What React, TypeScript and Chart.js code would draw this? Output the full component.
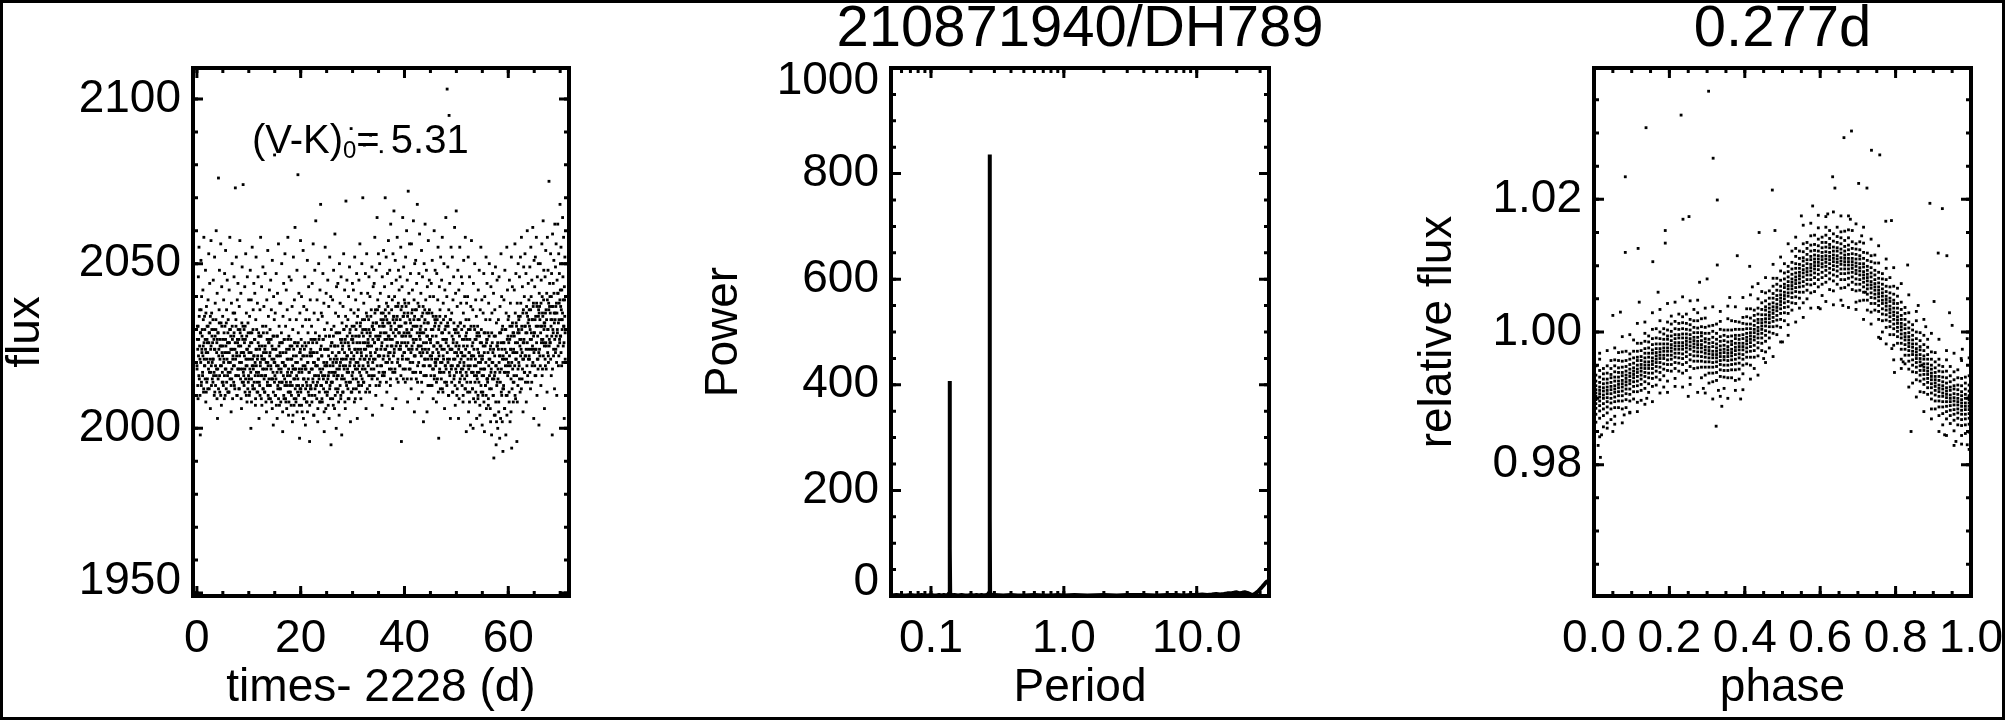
import React, { useEffect, useRef } from 'react';
import { Chart, registerables } from 'chart.js';

Chart.register(...registerables);

const FONT_FAMILY = "'Liberation Sans', Arial, Helvetica, sans-serif";

// ---------------- Panel 1: light curve ----------------
const LC_DAYS = [
  0, 1, 2, 3, 4, 5, 6, 7, 8, 9, 10, 11, 12, 13, 14, 15, 16, 17, 18, 19, 20, 21, 22, 23, 24, 25, 26, 27, 28, 29, 30, 31, 32, 33, 34, 35,
  36, 37, 38, 39, 40, 41, 42, 43, 44, 45, 46, 47, 48, 49, 50, 51, 52, 53, 54, 55, 56, 57, 58, 59, 60, 61, 62, 63, 64, 65, 66, 67, 68, 69, 70,
];
// broad scatter per day
const LC_FLUX: number[][] = [
  [2018, 2031, 2024, 2009, 2046, 2027, 2055, 2015, 2036, 2021, 1998, 2029, 2051, 2013, 2040, 2023],
  [2030, 2016, 2042, 2025, 2011, 2058, 2021, 2034, 2019, 2027, 2048, 2008, 2023, 2037, 2014, 2031],
  [2026, 2012, 2039, 2020, 2053, 2029, 2017, 2044, 2032, 2006, 2024, 2057, 2019, 2035, 2028, 2015],
  [2021, 2033, 2045, 2016, 2027, 2010, 2052, 2024, 2038, 2013, 2030, 2060, 2018, 2026, 2041, 2003],
  [2029, 2015, 2076, 2022, 2036, 2048, 2011, 2025, 2019, 2056, 2032, 2007, 2043, 2023, 2017, 2034],
  [2014, 2027, 2039, 2021, 2009, 2047, 2031, 2018, 2054, 2025, 2012, 2036, 2023, 2045, 2016, 2029],
  [2033, 2020, 2011, 2042, 2026, 2058, 2017, 2030, 2024, 2005, 2038, 2015, 2050, 2027, 2021, 2035],
  [2019, 2028, 2046, 2013, 2035, 2024, 2073, 2016, 2031, 2052, 2022, 2010, 2039, 2026, 2044, 2018],
  [2025, 2012, 2037, 2020, 2057, 2029, 2015, 2041, 2023, 2006, 2032, 2049, 2018, 2027, 2074, 2014],
  [2016, 2030, 2022, 2043, 2011, 2027, 2053, 2019, 2035, 2024, 2008, 2046, 2021, 2032, 2014, 2039],
  [2023, 2010, 2034, 2018, 2048, 2026, 2000, 2039, 2015, 2029, 2055, 2021, 2012, 2036, 2019, 2044],
  [2014, 2027, 2041, 2020, 2007, 2033, 2052, 2017, 2024, 2011, 2038, 2022, 2046, 2016, 2029, 2003],
  [2025, 2013, 2036, 2019, 2058, 2028, 2009, 2043, 2021, 2016, 2031, 2049, 2012, 2023, 2037, 2018],
  [2011, 2024, 2047, 2016, 2031, 2020, 2005, 2039, 2027, 2014, 2054, 2019, 2034, 2009, 2026, 2042],
  [2022, 2030, 2013, 2045, 2018, 2036, 2008, 2025, 2051, 2015, 2028, 2001, 2040, 2021, 2033, 2083],
  [2016, 2035, 2010, 2024, 2047, 2019, 2028, 2003, 2041, 2013, 2022, 2056, 2018, 2031, 2007, 2038],
  [2023, 2012, 2038, 2017, 2029, 2050, 2014, 2026, 1999, 2034, 2020, 2044, 2009, 2027, 2015, 2053],
  [2019, 2031, 2008, 2042, 2024, 2013, 2036, 2017, 2058, 2021, 2004, 2028, 2046, 2011, 2033, 2016],
  [2014, 2027, 2045, 2010, 2021, 2037, 2002, 2030, 2018, 2052, 2024, 2007, 2039, 2015, 2061, 2026],
  [2020, 2009, 2033, 2016, 2048, 2025, 2011, 2077, 2029, 2013, 2041, 2018, 1997, 2035, 2023, 2057],
  [2012, 2027, 2040, 2018, 2005, 2031, 2022, 2054, 2015, 2037, 2009, 2024, 2046, 2019, 2001, 2033],
  [2025, 2014, 2036, 2008, 2051, 2020, 2029, 2011, 2043, 2017, 2033, 1996, 2022, 2039, 2013, 2027],
  [2018, 2031, 2010, 2044, 2023, 2015, 2056, 2027, 2004, 2035, 2020, 2048, 2012, 2029, 2063, 2016],
  [2013, 2026, 2039, 2019, 2002, 2033, 2021, 2050, 2015, 2028, 2008, 2042, 2024, 2068, 2017, 2035],
  [2022, 2009, 2034, 2016, 2047, 2027, 2012, 2038, 1999, 2030, 2019, 2055, 2024, 2006, 2041, 2014],
  [2019, 2032, 2011, 2045, 2024, 2016, 2037, 2003, 2028, 2052, 2013, 2021, 2040, 1995, 2030, 2017],
  [2026, 2014, 2039, 2020, 2007, 2048, 2031, 2017, 2025, 2059, 2010, 2035, 2022, 2000, 2043, 2018],
  [2016, 2029, 2044, 2012, 2034, 2023, 2004, 2050, 2019, 2038, 2027, 2009, 2046, 2021, 1998, 2032],
  [2024, 2011, 2037, 2019, 2053, 2030, 2015, 2042, 2026, 2006, 2034, 2069, 2021, 2013, 2045, 2028],
  [2018, 2033, 2009, 2040, 2025, 2014, 2049, 2029, 2020, 2002, 2036, 2091, 2023, 2011, 2031, 2044],
  [2027, 2015, 2042, 2021, 2035, 2008, 2052, 2024, 2018, 2039, 2030, 2012, 2047, 2026, 2003, 2034],
  [2020, 2036, 2013, 2045, 2028, 2017, 2056, 2031, 2024, 2009, 2041, 2022, 2050, 2015, 2033, 2070],
  [2026, 2014, 2038, 2021, 2086, 2030, 2018, 2047, 2024, 2006, 2035, 2053, 2029, 2012, 2041, 2027],
  [2019, 2033, 2046, 2025, 2011, 2040, 2029, 2089, 2022, 2036, 2016, 2049, 2031, 2004, 2027, 2043],
  [2030, 2018, 2044, 2026, 2058, 2021, 2036, 2010, 2048, 2032, 2024, 2064, 2015, 2039, 2028, 2053],
  [2022, 2037, 2013, 2050, 2028, 2041, 2019, 2033, 2084, 2025, 2007, 2046, 2031, 2017, 2035, 2054],
  [2029, 2016, 2043, 2024, 2070, 2034, 2020, 2052, 2038, 2011, 2027, 2047, 2032, 2022, 2057, 2040],
  [2035, 2021, 2048, 2027, 2013, 2062, 2031, 2018, 2044, 2025, 2039, 2006, 2053, 2029, 2034, 2066],
  [2024, 2040, 2017, 2051, 2030, 2009, 2045, 2033, 2026, 2058, 2020, 2037, 2014, 2048, 2031, 2042],
  [2031, 2019, 2046, 2025, 2055, 2036, 1996, 2028, 2043, 2022, 2064, 2034, 2015, 2049, 2029, 2039],
  [2026, 2038, 2014, 2052, 2032, 2021, 2060, 2029, 2045, 2008, 2035, 2072, 2024, 2041, 2018, 2056],
  [2033, 2020, 2047, 2028, 2012, 2056, 2035, 2024, 2042, 2017, 2031, 2063, 2026, 2039, 2005, 2050],
  [2022, 2036, 2051, 2027, 2015, 2044, 2031, 2068, 2019, 2038, 2025, 2009, 2047, 2033, 2059, 2029],
  [2030, 2017, 2041, 2025, 2054, 2034, 2011, 2046, 2023, 2037, 2002, 2029, 2050, 2019, 2036, 2062],
  [2024, 2039, 2016, 2048, 2028, 2005, 2043, 2032, 2021, 2057, 2035, 2013, 2045, 2027, 2040, 2019],
  [2027, 2013, 2044, 2022, 2035, 2051, 2018, 2030, 2009, 2040, 2025, 2060, 2016, 2033, 2048, 2021],
  [2020, 2034, 2008, 2047, 2026, 2015, 2039, 2055, 2023, 1997, 2031, 2043, 2018, 2036, 2012, 2052],
  [2032, 2017, 2045, 2024, 2058, 2029, 2011, 2038, 2021, 2050, 2027, 2006, 2042, 2019, 2034, 2064],
  [2026, 2014, 2040, 2103, 2021, 2049, 2031, 2010, 2036, 2095, 2017, 2044, 2024, 2003, 2033, 2055],
  [2018, 2035, 2024, 2052, 2011, 2039, 2027, 2046, 2015, 2030, 2061, 2021, 2007, 2041, 2025, 2066],
  [2023, 2010, 2037, 2019, 2048, 2029, 2003, 2042, 2025, 2014, 2055, 2032, 2017, 2038, 2021, 2046],
  [2030, 2016, 2044, 2022, 2008, 2035, 2051, 2019, 2027, 2040, 2012, 2058, 2024, 2033, 1999, 2038],
  [2014, 2027, 2040, 2019, 2052, 2005, 2033, 2023, 2046, 2011, 2030, 2001, 2037, 2021, 2057, 2017],
  [2025, 2012, 2036, 2000, 2044, 2022, 2031, 2016, 2050, 2027, 2008, 2039, 2019, 2034, 2003, 2029],
  [2017, 2031, 2009, 2042, 2023, 2014, 2048, 2028, 2004, 2036, 2020, 2055, 2011, 2026, 2039, 2001],
  [2022, 2010, 2035, 2018, 2047, 2029, 1999, 2040, 2025, 2013, 2033, 2052, 2006, 2027, 2044, 2015],
  [2015, 2029, 2007, 2038, 2021, 2050, 2012, 2033, 2024, 2002, 2043, 2018, 1998, 2035, 2026, 2047],
  [2023, 2010, 2041, 1991, 2028, 2016, 2036, 2004, 2049, 2019, 1995, 2032, 2013, 2045, 2025, 2000],
  [2018, 2033, 2008, 2046, 2022, 1997, 2037, 2014, 2029, 2053, 2011, 2040, 2024, 2002, 2031, 1993],
  [2026, 2013, 2039, 2021, 2006, 2048, 2030, 2017, 1998, 2035, 2023, 2055, 2010, 2042, 2019, 2033],
  [2020, 2034, 2011, 2045, 2027, 2002, 2038, 2024, 2015, 2052, 1994, 2031, 2043, 2018, 2029, 2008],
  [2029, 2016, 2042, 2023, 2056, 2035, 2009, 2047, 2021, 2031, 1996, 2038, 2026, 2013, 2050, 2034],
  [2033, 2019, 2046, 2027, 2011, 2052, 2038, 2024, 2058, 2030, 2015, 2043, 2021, 2005, 2036, 2049],
  [2026, 2040, 2017, 2053, 2031, 2022, 2047, 2008, 2037, 2029, 2060, 2034, 2014, 2044, 2024, 2039],
  [2036, 2021, 2049, 2030, 2012, 2055, 2040, 2027, 2045, 2019, 2033, 2061, 2024, 2038, 2003, 2051],
  [2029, 2043, 2016, 2052, 2034, 2024, 2058, 2038, 2010, 2046, 2031, 2021, 2050, 2036, 2001, 2041],
  [2037, 2022, 2050, 2031, 2013, 2045, 2027, 2056, 2040, 2018, 2034, 2063, 2026, 2048, 2032, 2006],
  [2032, 2046, 2019, 2054, 2036, 2025, 2041, 2011, 2058, 2030, 2048, 2022, 2038, 2075, 2027, 2044],
  [2040, 2026, 2053, 2033, 2016, 2047, 2037, 1998, 2059, 2030, 2044, 2022, 2051, 2035, 2012, 2062],
  [2035, 2049, 2024, 2056, 2038, 2010, 2045, 2029, 2062, 2041, 2019, 2053, 2033, 2047, 2026, 2068],
  [2042, 2028, 2055, 2036, 2019, 2050, 2033, 2064, 2046, 2025, 2058, 2031, 2003, 2039, 2052, 2021],
];
// denser core of the band per day
const LC_FLUX_CORE: number[][] = [
  [2019, 2027, 2013, 2031, 2022, 2016, 2034, 2025, 2010, 2029, 2020, 2036, 2014, 2024],
  [2028, 2017, 2022, 2033, 2012, 2026, 2019, 2030, 2015, 2024, 2035, 2011, 2021, 2027],
  [2015, 2023, 2031, 2018, 2026, 2012, 2029, 2021, 2034, 2017, 2025, 2013, 2030, 2020],
  [2026, 2014, 2021, 2030, 2017, 2024, 2011, 2028, 2019, 2033, 2016, 2023, 2009, 2027],
  [2018, 2029, 2012, 2024, 2032, 2016, 2021, 2027, 2010, 2025, 2019, 2031, 2014, 2022],
  [2025, 2013, 2020, 2029, 2016, 2023, 2010, 2027, 2018, 2032, 2014, 2021, 2026, 2011],
  [2017, 2026, 2011, 2023, 2030, 2015, 2020, 2028, 2013, 2024, 2018, 2031, 2009, 2022],
  [2024, 2014, 2029, 2019, 2012, 2026, 2021, 2033, 2016, 2023, 2010, 2027, 2018, 2030],
  [2016, 2027, 2012, 2022, 2030, 2018, 2025, 2009, 2020, 2028, 2014, 2023, 2031, 2017],
  [2023, 2013, 2026, 2018, 2031, 2015, 2021, 2010, 2028, 2019, 2024, 2012, 2029, 2016],
  [2015, 2025, 2011, 2021, 2029, 2017, 2023, 2008, 2026, 2019, 2013, 2030, 2018, 2022],
  [2022, 2012, 2027, 2016, 2009, 2024, 2019, 2030, 2014, 2021, 2011, 2026, 2017, 2028],
  [2014, 2024, 2010, 2020, 2028, 2016, 2022, 2007, 2025, 2018, 2012, 2029, 2021, 2015],
  [2021, 2011, 2025, 2016, 2008, 2023, 2018, 2029, 2013, 2020, 2010, 2026, 2015, 2027],
  [2013, 2023, 2009, 2019, 2027, 2015, 2021, 2006, 2024, 2017, 2011, 2028, 2020, 2014],
  [2020, 2010, 2024, 2015, 2007, 2022, 2017, 2028, 2012, 2019, 2009, 2025, 2014, 2026],
  [2012, 2022, 2008, 2018, 2026, 2014, 2020, 2005, 2023, 2016, 2010, 2027, 2019, 2013],
  [2019, 2009, 2023, 2014, 2006, 2021, 2016, 2027, 2011, 2018, 2008, 2024, 2013, 2025],
  [2011, 2021, 2007, 2017, 2025, 2013, 2019, 2004, 2022, 2015, 2009, 2026, 2018, 2012],
  [2018, 2008, 2022, 2013, 2005, 2020, 2015, 2026, 2010, 2017, 2007, 2023, 2012, 2024],
  [2011, 2021, 2007, 2017, 2025, 2013, 2019, 2003, 2022, 2015, 2009, 2026, 2018, 2012],
  [2018, 2008, 2022, 2013, 2005, 2020, 2015, 2026, 2010, 2017, 2007, 2023, 2012, 2024],
  [2012, 2022, 2008, 2018, 2026, 2014, 2020, 2004, 2023, 2016, 2010, 2027, 2019, 2013],
  [2019, 2009, 2023, 2014, 2006, 2021, 2016, 2027, 2011, 2018, 2008, 2024, 2013, 2025],
  [2013, 2022, 2008, 2018, 2027, 2015, 2020, 2005, 2024, 2016, 2011, 2028, 2019, 2014],
  [2020, 2010, 2024, 2015, 2007, 2022, 2017, 2028, 2012, 2019, 2009, 2025, 2014, 2026],
  [2014, 2023, 2009, 2019, 2028, 2016, 2021, 2006, 2025, 2017, 2012, 2029, 2020, 2015],
  [2021, 2011, 2025, 2016, 2008, 2023, 2018, 2029, 2013, 2020, 2010, 2026, 2015, 2027],
  [2016, 2025, 2011, 2021, 2030, 2018, 2023, 2008, 2027, 2019, 2014, 2031, 2022, 2017],
  [2022, 2012, 2026, 2017, 2009, 2024, 2019, 2030, 2014, 2021, 2011, 2027, 2016, 2028],
  [2017, 2026, 2012, 2022, 2031, 2019, 2024, 2009, 2028, 2020, 2015, 2032, 2023, 2018],
  [2024, 2014, 2028, 2019, 2011, 2026, 2021, 2032, 2016, 2023, 2013, 2029, 2018, 2030],
  [2019, 2028, 2014, 2024, 2033, 2021, 2026, 2011, 2030, 2022, 2017, 2034, 2025, 2020],
  [2026, 2016, 2030, 2021, 2013, 2028, 2023, 2034, 2018, 2025, 2015, 2031, 2020, 2032],
  [2021, 2030, 2016, 2026, 2035, 2023, 2028, 2013, 2032, 2024, 2019, 2036, 2027, 2022],
  [2027, 2017, 2031, 2022, 2014, 2029, 2024, 2035, 2019, 2026, 2016, 2032, 2021, 2033],
  [2022, 2031, 2017, 2027, 2036, 2024, 2029, 2014, 2033, 2025, 2020, 2037, 2028, 2023],
  [2028, 2018, 2032, 2023, 2015, 2030, 2025, 2036, 2020, 2027, 2017, 2033, 2022, 2034],
  [2023, 2032, 2018, 2028, 2037, 2025, 2030, 2015, 2034, 2026, 2021, 2038, 2029, 2024],
  [2029, 2019, 2033, 2024, 2016, 2031, 2026, 2037, 2021, 2028, 2018, 2034, 2023, 2035],
  [2023, 2032, 2018, 2028, 2037, 2025, 2030, 2015, 2034, 2026, 2021, 2038, 2029, 2024],
  [2028, 2018, 2032, 2023, 2015, 2030, 2025, 2036, 2020, 2027, 2017, 2033, 2022, 2034],
  [2022, 2031, 2017, 2027, 2036, 2024, 2029, 2014, 2033, 2025, 2020, 2037, 2028, 2023],
  [2027, 2017, 2031, 2022, 2014, 2029, 2024, 2035, 2019, 2026, 2016, 2032, 2021, 2033],
  [2021, 2030, 2016, 2026, 2035, 2023, 2028, 2013, 2032, 2024, 2019, 2036, 2027, 2022],
  [2026, 2016, 2030, 2021, 2013, 2028, 2023, 2034, 2018, 2025, 2015, 2031, 2020, 2032],
  [2019, 2028, 2014, 2024, 2033, 2021, 2026, 2011, 2030, 2022, 2017, 2034, 2025, 2020],
  [2025, 2015, 2029, 2020, 2012, 2027, 2022, 2033, 2017, 2024, 2014, 2030, 2019, 2031],
  [2018, 2027, 2013, 2023, 2032, 2020, 2025, 2010, 2029, 2021, 2016, 2033, 2024, 2019],
  [2024, 2014, 2028, 2019, 2011, 2026, 2021, 2032, 2016, 2023, 2013, 2029, 2018, 2030],
  [2017, 2026, 2012, 2022, 2031, 2019, 2024, 2009, 2028, 2020, 2015, 2032, 2023, 2018],
  [2023, 2013, 2027, 2018, 2010, 2025, 2020, 2031, 2015, 2022, 2012, 2028, 2017, 2029],
  [2016, 2025, 2011, 2021, 2030, 2018, 2023, 2008, 2027, 2019, 2014, 2031, 2022, 2017],
  [2022, 2012, 2026, 2017, 2009, 2024, 2019, 2030, 2014, 2021, 2011, 2027, 2016, 2028],
  [2015, 2024, 2010, 2020, 2029, 2017, 2022, 2007, 2026, 2018, 2013, 2030, 2021, 2016],
  [2021, 2011, 2025, 2016, 2008, 2023, 2018, 2029, 2013, 2020, 2010, 2026, 2015, 2027],
  [2014, 2023, 2009, 2019, 2028, 2016, 2021, 2006, 2025, 2017, 2012, 2029, 2020, 2015],
  [2020, 2010, 2024, 2015, 2004, 2022, 2017, 2028, 2008, 2019, 2002, 2025, 2014, 2026],
  [2015, 2024, 2005, 2020, 2029, 2017, 2022, 2003, 2026, 2018, 2010, 2030, 2021, 2012],
  [2022, 2012, 2026, 2017, 2006, 2024, 2019, 2030, 2010, 2021, 2004, 2027, 2016, 2028],
  [2017, 2026, 2008, 2022, 2031, 2019, 2024, 2005, 2028, 2020, 2012, 2032, 2023, 2014],
  [2024, 2014, 2028, 2019, 2010, 2026, 2021, 2032, 2016, 2023, 2008, 2029, 2018, 2030],
  [2020, 2029, 2015, 2025, 2034, 2022, 2027, 2012, 2031, 2023, 2018, 2035, 2026, 2021],
  [2027, 2017, 2031, 2022, 2014, 2029, 2024, 2035, 2019, 2026, 2016, 2032, 2021, 2033],
  [2022, 2031, 2017, 2027, 2036, 2024, 2029, 2014, 2033, 2025, 2020, 2037, 2028, 2023],
  [2029, 2019, 2033, 2024, 2016, 2031, 2026, 2037, 2021, 2028, 2018, 2034, 2023, 2035],
  [2024, 2033, 2019, 2029, 2038, 2026, 2031, 2016, 2035, 2027, 2022, 2039, 2030, 2025],
  [2031, 2021, 2035, 2026, 2018, 2033, 2028, 2039, 2023, 2030, 2020, 2036, 2025, 2037],
  [2026, 2035, 2021, 2031, 2040, 2028, 2033, 2018, 2037, 2029, 2024, 2041, 2032, 2027],
  [2033, 2023, 2037, 2028, 2020, 2035, 2030, 2041, 2025, 2032, 2022, 2038, 2027, 2039],
  [2028, 2037, 2023, 2033, 2042, 2030, 2035, 2020, 2039, 2031, 2026, 2043, 2034, 2029],
];
const LC_X_TICKS = [0, 20, 40, 60];
const LC_X_TICK_LABELS = ['0', '20', '40', '60'];
const LC_Y_TICKS = [1950, 2000, 2050, 2100];
const LC_Y_TICK_LABELS = ['1950', '2000', '2050', '2100'];
const LC_X_RANGE = [-0.75, 71.7];
const LC_Y_RANGE = [1949.1, 2109.4];
const LC_X_MINOR_STEP = 5;
const LC_Y_MINOR_STEP = 10;
const ANNOT_MAIN = '(V-K)';
const ANNOT_SUB = '0';
const ANNOT_VALUE = '= 5.31';
const ANNOT_AT = { x: 10.6, y: 2083.6 };

// ---------------- Panel 2: periodogram ----------------
const PG_PERIOD = [
  0.05, 0.055, 0.06, 0.065, 0.07, 0.075, 0.08, 0.085, 0.09, 0.095, 0.1, 0.105, 0.11, 0.115, 0.12, 0.125, 0.13, 0.134,
  0.1375, 0.1381, 0.1385, 0.1389, 0.1395,
  0.142, 0.146, 0.15, 0.16, 0.17, 0.18, 0.19, 0.2, 0.21, 0.22, 0.23, 0.24, 0.25, 0.26, 0.27,
  0.2755, 0.2764, 0.277, 0.2776, 0.2785,
  0.282, 0.29, 0.3, 0.35, 0.4, 0.45, 0.5, 0.6, 0.7, 0.8, 0.9, 1.0, 1.2, 1.5, 2, 2.5, 3, 4, 5, 6, 7, 8, 9,
  10, 11, 12, 13, 14, 15, 16, 17, 18, 19, 20, 21, 22, 23, 24, 25, 26, 27, 28, 29, 30, 31, 32, 33, 34, 35,
];
const PG_POWER = [
  1, 2, 1, 1, 2, 1, 1, 2, 1, 1, 2, 1, 1, 2, 1, 2, 1, 2,
  6, 120, 407, 90, 5,
  2, 1, 2, 1, 2, 1, 1, 2, 1, 2, 1, 2, 1, 2, 3,
  8, 200, 836, 150, 6,
  2, 1, 2, 1, 2, 1, 1, 2, 1, 1, 2, 1, 2, 1, 2, 1, 2, 2, 1, 2, 2, 1, 2,
  2, 3, 2, 3, 4, 3, 4, 5, 5, 6, 7, 5, 6, 7, 6, 4, 2, 3, 6, 9, 13, 17, 21, 25, 28, 27,
];
const PG_X_TICKS = [0.1, 1, 10];
const PG_X_TICK_LABELS = ['0.1', '1.0', '10.0'];
const PG_Y_TICKS = [0, 200, 400, 600, 800, 1000];
const PG_Y_TICK_LABELS = ['0', '200', '400', '600', '800', '1000'];
const PG_X_RANGE = [0.05, 35];
const PG_Y_RANGE = [0, 1000];
const PG_Y_MINOR_STEP = 50;
const PG_TITLE = '210871940/DH789';

// ---------------- Panel 3: phased light curve (one row per phase column) ----------------
const PH_COLUMN_FLUX: number[][] = [
  [0.9864, 0.9876, 0.9885, 0.9892, 0.9898, 0.9903, 0.9908, 0.9913, 0.9919, 0.9926, 0.9935, 0.9949],
  [0.987, 0.9881, 0.9889, 0.9896, 0.9902, 0.9907, 0.9912, 0.9917, 0.9924, 0.9932, 0.9942, 0.9959],
  [0.9857, 0.9874, 0.9884, 0.9892, 0.99, 0.9905, 0.9911, 0.9916, 0.9922, 0.9929, 0.9937, 0.9945],
  [0.9863, 0.9878, 0.9887, 0.9895, 0.9901, 0.9907, 0.9912, 0.9917, 0.9923, 0.9929, 0.9938, 0.9949],
  [0.9868, 0.9884, 0.9893, 0.99, 0.9907, 0.9913, 0.9918, 0.9924, 0.9931, 0.9936, 0.9945, 0.9957],
  [0.9873, 0.9886, 0.9895, 0.9902, 0.9909, 0.9914, 0.9919, 0.9926, 0.9932, 0.994, 0.9949, 0.9958],
  [0.9886, 0.9896, 0.9904, 0.991, 0.9916, 0.9921, 0.9926, 0.9932, 0.9939, 0.9946, 0.9957, 0.9969],
  [0.9884, 0.9896, 0.9904, 0.9911, 0.9917, 0.9922, 0.9927, 0.9934, 0.9939, 0.9947, 0.9956, 0.997],
  [0.9886, 0.9898, 0.9907, 0.9914, 0.992, 0.9925, 0.993, 0.9935, 0.9941, 0.9948, 0.9957, 0.9971],
  [0.9879, 0.9896, 0.9906, 0.9914, 0.9922, 0.9927, 0.9933, 0.9938, 0.9944, 0.9951, 0.9959, 0.9967],
  [0.9899, 0.991, 0.9918, 0.9925, 0.9931, 0.9936, 0.9941, 0.9946, 0.9953, 0.9961, 0.9971, 0.9988],
  [0.9894, 0.991, 0.9919, 0.9926, 0.9933, 0.9939, 0.9944, 0.995, 0.9957, 0.9962, 0.9971, 0.9983],
  [0.9897, 0.9912, 0.9921, 0.9929, 0.9935, 0.9941, 0.9946, 0.9951, 0.9957, 0.9963, 0.9972, 0.9983],
  [0.9915, 0.9925, 0.9933, 0.9939, 0.9945, 0.995, 0.9955, 0.9961, 0.9968, 0.9975, 0.9986, 0.9998],
  [0.9909, 0.9922, 0.9931, 0.9938, 0.9945, 0.995, 0.9955, 0.9962, 0.9968, 0.9976, 0.9985, 0.9994],
  [0.9918, 0.993, 0.9938, 0.9945, 0.9951, 0.9956, 0.9961, 0.9968, 0.9973, 0.9981, 0.999, 1.0004],
  [0.992, 0.9932, 0.9941, 0.9948, 0.9954, 0.9959, 0.9964, 0.9969, 0.9975, 0.9982, 0.9991, 1.0005],
  [0.9928, 0.9939, 0.9947, 0.9954, 0.996, 0.9965, 0.997, 0.9975, 0.9982, 0.999, 1.0, 1.0017],
  [0.9917, 0.9934, 0.9944, 0.9952, 0.996, 0.9965, 0.9971, 0.9976, 0.9982, 0.9989, 0.9997, 1.0005],
  [0.9926, 0.9942, 0.9951, 0.9958, 0.9965, 0.9971, 0.9976, 0.9982, 0.9989, 0.9994, 1.0003, 1.0015],
  [0.9941, 0.9951, 0.9959, 0.9965, 0.9971, 0.9976, 0.9981, 0.9987, 0.9994, 1.0001, 1.0012, 1.0024],
  [0.993, 0.9945, 0.9954, 0.9962, 0.9968, 0.9974, 0.9979, 0.9984, 0.999, 0.9996, 1.0005, 1.0016],
  [0.9941, 0.9953, 0.9961, 0.9968, 0.9974, 0.9979, 0.9984, 0.9991, 0.9996, 1.0004, 1.0013, 1.0027],
  [0.9938, 0.9951, 0.996, 0.9967, 0.9974, 0.9979, 0.9984, 0.9991, 0.9997, 1.0005, 1.0014, 1.0023],
  [0.9942, 0.9954, 0.9963, 0.997, 0.9976, 0.9981, 0.9986, 0.9991, 0.9997, 1.0004, 1.0013, 1.0027],
  [0.9931, 0.9948, 0.9958, 0.9966, 0.9974, 0.9979, 0.9985, 0.999, 0.9996, 1.0003, 1.0011, 1.0019],
  [0.9945, 0.9956, 0.9964, 0.9971, 0.9977, 0.9982, 0.9987, 0.9992, 0.9999, 1.0007, 1.0017, 1.0034],
  [0.9946, 0.9956, 0.9964, 0.997, 0.9976, 0.9981, 0.9986, 0.9992, 0.9999, 1.0006, 1.0017, 1.0029],
  [0.9931, 0.9947, 0.9956, 0.9963, 0.997, 0.9976, 0.9981, 0.9987, 0.9994, 0.9999, 1.0008, 1.002],
  [0.9935, 0.9947, 0.9955, 0.9962, 0.9968, 0.9973, 0.9978, 0.9985, 0.999, 0.9998, 1.0007, 1.0021],
  [0.9923, 0.9938, 0.9947, 0.9955, 0.9961, 0.9967, 0.9972, 0.9977, 0.9983, 0.9989, 0.9998, 1.0009],
  [0.9925, 0.9938, 0.9947, 0.9954, 0.9961, 0.9966, 0.9971, 0.9978, 0.9984, 0.9992, 1.0001, 1.001],
  [0.9927, 0.9939, 0.9948, 0.9955, 0.9961, 0.9966, 0.9971, 0.9976, 0.9982, 0.9989, 0.9998, 1.0012],
  [0.9933, 0.9943, 0.9951, 0.9957, 0.9963, 0.9968, 0.9973, 0.9979, 0.9986, 0.9993, 1.0004, 1.0016],
  [0.9915, 0.9932, 0.9942, 0.995, 0.9958, 0.9963, 0.9969, 0.9974, 0.998, 0.9987, 0.9995, 1.0003],
  [0.9931, 0.9942, 0.995, 0.9957, 0.9963, 0.9968, 0.9973, 0.9978, 0.9985, 0.9993, 1.0003, 1.002],
  [0.9931, 0.9943, 0.9951, 0.9958, 0.9964, 0.9969, 0.9974, 0.9981, 0.9986, 0.9994, 1.0003, 1.0017],
  [0.9927, 0.9943, 0.9952, 0.9959, 0.9966, 0.9972, 0.9977, 0.9983, 0.999, 0.9995, 1.0004, 1.0016],
  [0.9929, 0.9944, 0.9953, 0.9961, 0.9967, 0.9973, 0.9978, 0.9983, 0.9989, 0.9995, 1.0004, 1.0015],
  [0.9937, 0.995, 0.9959, 0.9966, 0.9973, 0.9978, 0.9983, 0.999, 0.9996, 1.0004, 1.0013, 1.0022],
  [0.9952, 0.9962, 0.997, 0.9976, 0.9982, 0.9987, 0.9992, 0.9998, 1.0005, 1.0012, 1.0023, 1.0035],
  [0.995, 0.9962, 0.9971, 0.9978, 0.9984, 0.9989, 0.9994, 0.9999, 1.0005, 1.0012, 1.0021, 1.0035],
  [0.9945, 0.9962, 0.9972, 0.998, 0.9988, 0.9993, 0.9999, 1.0004, 1.001, 1.0017, 1.0025, 1.0033],
  [0.9964, 0.9976, 0.9984, 0.9991, 0.9997, 1.0002, 1.0007, 1.0014, 1.0019, 1.0027, 1.0036, 1.005],
  [0.9972, 0.9983, 0.9991, 0.9998, 1.0004, 1.0009, 1.0014, 1.0019, 1.0026, 1.0034, 1.0044, 1.0061],
  [0.997, 0.9986, 0.9995, 1.0002, 1.0009, 1.0015, 1.002, 1.0026, 1.0033, 1.0038, 1.0047, 1.0059],
  [0.9976, 0.9991, 1.0, 1.0008, 1.0014, 1.002, 1.0025, 1.003, 1.0036, 1.0042, 1.0051, 1.0062],
  [0.9998, 1.0008, 1.0016, 1.0022, 1.0028, 1.0033, 1.0038, 1.0044, 1.0051, 1.0058, 1.0069, 1.0081],
  [0.9996, 1.0009, 1.0018, 1.0025, 1.0032, 1.0037, 1.0042, 1.0049, 1.0055, 1.0063, 1.0072, 1.0081],
  [1.0007, 1.0019, 1.0028, 1.0035, 1.0041, 1.0046, 1.0051, 1.0056, 1.0062, 1.0069, 1.0078, 1.0092],
  [1.0017, 1.0029, 1.0037, 1.0044, 1.005, 1.0055, 1.006, 1.0067, 1.0072, 1.008, 1.0089, 1.0103],
  [1.0011, 1.0028, 1.0038, 1.0046, 1.0054, 1.0059, 1.0065, 1.007, 1.0076, 1.0083, 1.0091, 1.0099],
  [1.0033, 1.0044, 1.0052, 1.0059, 1.0065, 1.007, 1.0075, 1.008, 1.0087, 1.0095, 1.0105, 1.0122],
  [1.0043, 1.0053, 1.0061, 1.0067, 1.0073, 1.0078, 1.0083, 1.0089, 1.0096, 1.0103, 1.0114, 1.0126],
  [1.0036, 1.0051, 1.006, 1.0068, 1.0074, 1.008, 1.0085, 1.009, 1.0096, 1.0102, 1.0111, 1.0122],
  [1.0044, 1.006, 1.0069, 1.0076, 1.0083, 1.0089, 1.0094, 1.01, 1.0107, 1.0112, 1.0121, 1.0133],
  [1.005, 1.0063, 1.0072, 1.0079, 1.0086, 1.0091, 1.0096, 1.0103, 1.0109, 1.0117, 1.0126, 1.0135],
  [1.0059, 1.0071, 1.0079, 1.0086, 1.0092, 1.0097, 1.0102, 1.0109, 1.0114, 1.0122, 1.0131, 1.0145],
  [1.0061, 1.0073, 1.0082, 1.0089, 1.0095, 1.01, 1.0105, 1.011, 1.0116, 1.0123, 1.0132, 1.0146],
  [1.0068, 1.0079, 1.0087, 1.0094, 1.01, 1.0105, 1.011, 1.0115, 1.0122, 1.013, 1.014, 1.0157],
  [1.0055, 1.0072, 1.0082, 1.009, 1.0098, 1.0103, 1.0109, 1.0114, 1.012, 1.0127, 1.0135, 1.0143],
  [1.0075, 1.0085, 1.0093, 1.0099, 1.0105, 1.011, 1.0115, 1.0121, 1.0128, 1.0135, 1.0146, 1.0158],
  [1.0064, 1.008, 1.0089, 1.0096, 1.0103, 1.0109, 1.0114, 1.012, 1.0127, 1.0132, 1.0141, 1.0153],
  [1.0062, 1.0077, 1.0086, 1.0094, 1.01, 1.0106, 1.0111, 1.0116, 1.0122, 1.0128, 1.0137, 1.0148],
  [1.0072, 1.0084, 1.0092, 1.0099, 1.0105, 1.011, 1.0115, 1.0122, 1.0127, 1.0135, 1.0144, 1.0158],
  [1.0066, 1.0079, 1.0088, 1.0095, 1.0102, 1.0107, 1.0112, 1.0119, 1.0125, 1.0133, 1.0142, 1.0151],
  [1.0067, 1.0079, 1.0088, 1.0095, 1.0101, 1.0106, 1.0111, 1.0116, 1.0122, 1.0129, 1.0138, 1.0152],
  [1.0071, 1.0081, 1.0089, 1.0095, 1.0101, 1.0106, 1.0111, 1.0117, 1.0124, 1.0131, 1.0142, 1.0154],
  [1.0064, 1.0075, 1.0083, 1.009, 1.0096, 1.0101, 1.0106, 1.0111, 1.0118, 1.0126, 1.0136, 1.0153],
  [1.0045, 1.0062, 1.0072, 1.008, 1.0088, 1.0093, 1.0099, 1.0104, 1.011, 1.0117, 1.0125, 1.0133],
  [1.0047, 1.0063, 1.0072, 1.0079, 1.0086, 1.0092, 1.0097, 1.0103, 1.011, 1.0115, 1.0124, 1.0136],
  [1.0048, 1.006, 1.0068, 1.0075, 1.0081, 1.0086, 1.0091, 1.0098, 1.0103, 1.0111, 1.012, 1.0134],
  [1.0033, 1.0048, 1.0057, 1.0065, 1.0071, 1.0077, 1.0082, 1.0087, 1.0093, 1.0099, 1.0108, 1.0119],
  [1.003, 1.0043, 1.0052, 1.0059, 1.0066, 1.0071, 1.0076, 1.0083, 1.0089, 1.0097, 1.0106, 1.0115],
  [1.0033, 1.0043, 1.0051, 1.0057, 1.0063, 1.0068, 1.0073, 1.0079, 1.0086, 1.0093, 1.0104, 1.0116],
  [1.0019, 1.0031, 1.004, 1.0047, 1.0053, 1.0058, 1.0063, 1.0068, 1.0074, 1.0081, 1.009, 1.0104],
  [1.0, 1.0017, 1.0027, 1.0035, 1.0043, 1.0048, 1.0054, 1.0059, 1.0065, 1.0072, 1.008, 1.0088],
  [1.0007, 1.0018, 1.0026, 1.0033, 1.0039, 1.0044, 1.0049, 1.0054, 1.0061, 1.0069, 1.0079, 1.0096],
  [0.9996, 1.0008, 1.0016, 1.0023, 1.0029, 1.0034, 1.0039, 1.0046, 1.0051, 1.0059, 1.0068, 1.0082],
  [0.998, 0.9996, 1.0005, 1.0012, 1.0019, 1.0025, 1.003, 1.0036, 1.0043, 1.0048, 1.0057, 1.0069],
  [0.9983, 0.9993, 1.0001, 1.0007, 1.0013, 1.0018, 1.0023, 1.0029, 1.0036, 1.0043, 1.0054, 1.0066],
  [0.9959, 0.9974, 0.9983, 0.9991, 0.9997, 1.0003, 1.0008, 1.0013, 1.0019, 1.0025, 1.0034, 1.0045],
  [0.9952, 0.9965, 0.9974, 0.9981, 0.9988, 0.9993, 0.9998, 1.0005, 1.0011, 1.0019, 1.0028, 1.0037],
  [0.9944, 0.9956, 0.9965, 0.9972, 0.9978, 0.9983, 0.9988, 0.9993, 0.9999, 1.0006, 1.0015, 1.0029],
  [0.9923, 0.994, 0.995, 0.9958, 0.9966, 0.9971, 0.9977, 0.9982, 0.9988, 0.9995, 1.0003, 1.0011],
  [0.9928, 0.9939, 0.9947, 0.9954, 0.996, 0.9965, 0.997, 0.9975, 0.9982, 0.999, 1.0, 1.0017],
  [0.991, 0.9926, 0.9935, 0.9942, 0.9949, 0.9955, 0.996, 0.9966, 0.9973, 0.9978, 0.9987, 0.9999],
  [0.9909, 0.9921, 0.9929, 0.9936, 0.9942, 0.9947, 0.9952, 0.9959, 0.9964, 0.9972, 0.9981, 0.9995],
  [0.9906, 0.9916, 0.9924, 0.993, 0.9936, 0.9941, 0.9946, 0.9952, 0.9959, 0.9966, 0.9977, 0.9989],
  [0.9884, 0.9899, 0.9908, 0.9916, 0.9922, 0.9928, 0.9933, 0.9938, 0.9944, 0.995, 0.9959, 0.997],
  [0.9884, 0.9896, 0.9905, 0.9912, 0.9918, 0.9923, 0.9928, 0.9933, 0.9939, 0.9946, 0.9955, 0.9969],
  [0.9874, 0.9887, 0.9896, 0.9903, 0.991, 0.9915, 0.992, 0.9927, 0.9933, 0.9941, 0.995, 0.9959],
  [0.986, 0.9877, 0.9887, 0.9895, 0.9903, 0.9908, 0.9914, 0.9919, 0.9925, 0.9932, 0.994, 0.9948],
  [0.9869, 0.988, 0.9888, 0.9895, 0.9901, 0.9906, 0.9911, 0.9916, 0.9923, 0.9931, 0.9941, 0.9958],
  [0.9862, 0.9874, 0.9882, 0.9889, 0.9895, 0.99, 0.9905, 0.9912, 0.9917, 0.9925, 0.9934, 0.9948],
  [0.9851, 0.9867, 0.9876, 0.9883, 0.989, 0.9896, 0.9901, 0.9907, 0.9914, 0.9919, 0.9928, 0.994],
  [0.986, 0.987, 0.9878, 0.9884, 0.989, 0.9895, 0.99, 0.9906, 0.9913, 0.992, 0.9931, 0.9943],
  [0.9844, 0.9859, 0.9868, 0.9876, 0.9882, 0.9888, 0.9893, 0.9898, 0.9904, 0.991, 0.9919, 0.993],
  [0.9847, 0.986, 0.9869, 0.9876, 0.9883, 0.9888, 0.9893, 0.99, 0.9906, 0.9914, 0.9923, 0.9932],
  [0.9849, 0.9861, 0.987, 0.9877, 0.9883, 0.9888, 0.9893, 0.9898, 0.9904, 0.9911, 0.992, 0.9934],
];
// looser points just outside the band (two per phase step: above, below)
const PH_HALO_PHASE = [
  0.015, 0.035, 0.055, 0.075, 0.095, 0.115, 0.135, 0.155, 0.175, 0.195, 0.215, 0.235, 0.255, 0.275, 0.295, 0.315, 0.335,
  0.355, 0.375, 0.395, 0.415, 0.435, 0.455, 0.475, 0.495, 0.515, 0.535, 0.555, 0.575, 0.595, 0.615, 0.635, 0.655, 0.675,
  0.695, 0.715, 0.735, 0.755, 0.775, 0.795, 0.815, 0.835, 0.855, 0.875, 0.895, 0.915, 0.935, 0.955, 0.975, 0.995,
];
const PH_HALO_UPPER = [
  0.9968, 0.9972, 0.9976, 0.9993, 0.9996, 1.0013, 1.0015, 1.0029, 1.0034, 1.0043, 1.0045, 1.0053, 1.0047, 1.0048, 1.0036, 1.0038, 1.0031,
  1.0039, 1.0038, 1.0052, 1.0056, 1.0073, 1.0082, 1.0102, 1.0113, 1.0133, 1.0143, 1.0161, 1.0164, 1.0176, 1.0174, 1.0181, 1.0175, 1.0175,
  1.0163, 1.0158, 1.014, 1.013, 1.011, 1.0097, 1.0073, 1.0056, 1.0031, 1.0019, 0.9998, 0.9989, 0.9972, 0.9968, 0.9957, 0.9961,
];
const PH_HALO_LOWER = [
  0.9842, 0.9855, 0.9861, 0.9863, 0.9878, 0.988, 0.9891, 0.9895, 0.9908, 0.9909, 0.9918, 0.9917, 0.9921, 0.9909, 0.9908, 0.9899, 0.9903,
  0.99, 0.9912, 0.9913, 0.9929, 0.9935, 0.9954, 0.9963, 0.9985, 0.9995, 1.0015, 1.0022, 1.0036, 1.0037, 1.0046, 1.0041, 1.0048, 1.0037,
  1.0034, 1.0019, 1.0012, 0.9992, 0.9982, 0.9958, 0.9945, 0.9917, 0.9902, 0.988, 0.9869, 0.985, 0.9844, 0.9829, 0.9831, 0.9823,
];
// scattered points far from the band
const PH_EXTRA_PHASE = [
  0.304, 0.231, 0.138, 0.316, 0.083, 0.327, 0.473, 0.663, 0.683, 0.736, 0.758, 0.633, 0.639, 0.702, 0.724, 0.891, 0.924,
  0.913, 0.936, 0.236, 0.252, 0.083, 0.117, 0.156, 0.189, 0.189, 0.38, 0.413, 0.438, 0.48, 0.327, 0.774, 0.789, 0.832,
  0.902, 0.943, 0.797, 0.841, 0.324, 0.339, 0.389, 0.25, 0.974, 0.977, 0.05, 0.07, 0.12, 0.17, 0.28, 0.3, 0.36, 0.42,
  0.55, 0.58, 0.62, 0.68, 0.71, 0.76, 0.79, 0.86, 0.88, 0.95, 0.99, 0.99, 0.96, 0.93, 0.02, 0.05, 0.08, 0.14, 0.29,
  0.33, 0.45, 0.5, 0.6, 0.66, 0.72, 0.82, 0.87, 0.011, 0.017,
];
const PH_EXTRA_FLUX = [
  1.0363, 1.0327, 1.0308, 1.0262, 1.0234, 1.0199, 1.0214, 1.0293, 1.0303, 1.0274, 1.0267, 1.0234, 1.0217, 1.0224, 1.0217, 1.0194, 1.0186,
  1.0119, 1.0115, 1.017, 1.0174, 1.012, 1.0126, 1.0106, 1.0153, 1.0134, 1.0115, 1.0099, 1.015, 1.0153, 1.0101, 1.0167, 1.0168, 1.0101,
  1.0046, 1.0029, 0.9939, 0.985, 0.9858, 0.9888, 0.9899, 0.9903, 0.996, 0.9974, 1.0025, 1.003, 1.0045, 1.006, 1.0075, 1.008, 1.0052, 1.0068,
  1.0175, 1.019, 1.0178, 1.017, 1.0145, 0.999, 0.9975, 1.004, 1.0008, 1.001, 0.999, 0.983, 0.9835, 0.9845, 0.9845, 0.985, 0.9875, 0.99, 0.9915,
  0.9912, 0.996, 0.9985, 1.0035, 1.004, 1.006, 0.9955, 0.995, 0.9829, 0.9811,
];
const PH_X_TICKS = [0, 0.2, 0.4, 0.6, 0.8, 1.0];
const PH_X_TICK_LABELS = ['0.0', '0.2', '0.4', '0.6', '0.8', '1.0'];
const PH_Y_TICKS = [0.98, 1.0, 1.02];
const PH_Y_TICK_LABELS = ['0.98', '1.00', '1.02'];
const PH_X_RANGE = [0, 1];
const PH_Y_RANGE = [0.9602, 1.0398];
const PH_X_MINOR_STEP = 0.05;
const PH_Y_MINOR_STEP = 0.005;
const PH_TITLE = '0.277d';

// ---------------- layout (pixels) ----------------
const PAGE_W = 2005;
const PAGE_H = 720;
const PLOT_TOP = 68;
const PLOT_BOTTOM = 596;
const TITLE_BASELINE = 46;

type Panel = { canvasLeft: number; canvasWidth: number; plotLeft: number; plotRight: number };
const PANEL_LC: Panel = { canvasLeft: 0, canvasWidth: 660, plotLeft: 193, plotRight: 569 };
const PANEL_PG: Panel = { canvasLeft: 660, canvasWidth: 680, plotLeft: 891, plotRight: 1269 };
const PANEL_PH: Panel = { canvasLeft: 1340, canvasWidth: 760, plotLeft: 1594, plotRight: 1971 };

function linearMinors(min: number, max: number, step: number): number[] {
  const out: number[] = [];
  const start = Math.ceil(min / step - 1e-9);
  for (let k = start; k * step <= max + 1e-9; k++) out.push(k * step);
  return out;
}
function logMinors(min: number, max: number): number[] {
  const out: number[] = [];
  for (let e = -3; e <= 3; e++) {
    for (let m = 1; m <= 9; m++) {
      const v = m * Math.pow(10, e);
      if (v >= min && v <= max) out.push(v);
    }
  }
  return out;
}

type TickSpec = { xMajor: number[]; xMinor: number[]; yMajor: number[]; yMinor: number[] };

function idlAxesPlugin(spec: TickSpec) {
  return {
    id: 'idlAxes',
    afterDatasetsDraw(chart: any) {
      const { ctx, chartArea: a, scales } = chart;
      const xs = scales.x;
      const ys = scales.y;
      const MAJ = 10;
      const MIN = 5;
      ctx.save();
      ctx.strokeStyle = '#000';
      ctx.lineCap = 'butt';
      ctx.lineWidth = 3;
      const drawX = (vals: number[], len: number) => {
        vals.forEach((v) => {
          const px = xs.getPixelForValue(v);
          if (px < a.left - 0.5 || px > a.right + 0.5) return;
          ctx.beginPath();
          ctx.moveTo(px, a.bottom);
          ctx.lineTo(px, a.bottom - len);
          ctx.moveTo(px, a.top);
          ctx.lineTo(px, a.top + len);
          ctx.stroke();
        });
      };
      const drawY = (vals: number[], len: number) => {
        vals.forEach((v) => {
          const py = ys.getPixelForValue(v);
          if (py < a.top - 0.5 || py > a.bottom + 0.5) return;
          ctx.beginPath();
          ctx.moveTo(a.left, py);
          ctx.lineTo(a.left + len, py);
          ctx.moveTo(a.right, py);
          ctx.lineTo(a.right - len, py);
          ctx.stroke();
        });
      };
      drawX(spec.xMinor, MIN);
      drawX(spec.xMajor, MAJ);
      drawY(spec.yMinor, MIN);
      drawY(spec.yMajor, MAJ);
      ctx.lineWidth = 4;
      ctx.strokeRect(a.left, a.top, a.right - a.left, a.bottom - a.top);
      ctx.restore();
    },
  };
}

function panelTitlePlugin(text: string) {
  return {
    id: 'panelTitle',
    afterDraw(chart: any) {
      const { ctx, chartArea: a } = chart;
      ctx.save();
      ctx.fillStyle = '#000';
      ctx.textAlign = 'center';
      ctx.textBaseline = 'alphabetic';
      ctx.font = `58px ${FONT_FAMILY}`;
      ctx.fillText(text, (a.left + a.right) / 2, TITLE_BASELINE);
      ctx.restore();
    },
  };
}

const annotationPlugin = {
  id: 'vkAnnotation',
  afterDatasetsDraw(chart: any) {
    const { ctx, scales } = chart;
    const x0 = scales.x.getPixelForValue(ANNOT_AT.x);
    const y0 = scales.y.getPixelForValue(ANNOT_AT.y);
    ctx.save();
    ctx.fillStyle = '#000';
    ctx.textBaseline = 'alphabetic';
    ctx.textAlign = 'left';
    ctx.font = `40px ${FONT_FAMILY}`;
    ctx.fillText(ANNOT_MAIN, x0, y0);
    let x = x0 + ctx.measureText(ANNOT_MAIN).width;
    ctx.font = `24px ${FONT_FAMILY}`;
    ctx.fillText(ANNOT_SUB, x, y0 + 5);
    x += ctx.measureText(ANNOT_SUB).width;
    ctx.font = `40px ${FONT_FAMILY}`;
    ctx.fillText(ANNOT_VALUE, x, y0);
    ctx.restore();
  },
};

const TICK_FONT = { family: FONT_FAMILY, size: 46, lineHeight: 1 };
const AXIS_TITLE_FONT = { family: FONT_FAMILY, size: 46, lineHeight: 1 };

function xScale(range: number[], ticks: number[], labels: string[], title: string, type: string) {
  return {
    type,
    min: range[0],
    max: range[1],
    bounds: 'data',
    afterBuildTicks: (s: any) => {
      s.ticks = ticks.map((v) => ({ value: v }));
    },
    afterFit: (s: any) => {
      s.height = PAGE_H - PLOT_BOTTOM;
    },
    ticks: {
      autoSkip: false,
      maxRotation: 0,
      minRotation: 0,
      padding: 20,
      color: '#000',
      font: TICK_FONT,
      callback: (_v: any, i: number) => labels[i],
    },
    grid: { display: false, drawTicks: false },
    border: { display: false },
    title: { display: true, text: title, color: '#000', font: AXIS_TITLE_FONT, padding: { top: 0, bottom: 9 } },
  };
}

function yScale(
  panel: Panel,
  range: number[],
  ticks: number[],
  labels: string[],
  title: string,
  titleCenterX: number,
  shiftUp: number[],
  shiftDown: number[],
  shiftLineHeight: number,
) {
  const width = panel.plotLeft - panel.canvasLeft;
  return {
    type: 'linear',
    min: range[0],
    max: range[1],
    bounds: 'data',
    afterBuildTicks: (s: any) => {
      s.ticks = ticks.map((v) => ({ value: v }));
    },
    afterFit: (s: any) => {
      s.width = width;
    },
    ticks: {
      autoSkip: false,
      padding: 12,
      color: '#000',
      font: { family: FONT_FAMILY, size: 46, lineHeight: shiftLineHeight },
      callback: (_v: any, i: number) => {
        const lab = labels[i];
        if (shiftUp.includes(ticks[i])) return [lab, ''];
        if (shiftDown.includes(ticks[i])) return ['', lab];
        return lab;
      },
    },
    grid: { display: false, drawTicks: false },
    border: { display: false },
    title: {
      display: true,
      text: title,
      color: '#000',
      font: AXIS_TITLE_FONT,
      padding: { top: titleCenterX - panel.canvasLeft - 23, bottom: 0 },
    },
  };
}

const BASE_PLUGINS = { legend: { display: false }, tooltip: { enabled: false }, title: { display: false } };

function layoutPadding(panel: Panel) {
  return {
    padding: {
      left: 0,
      right: panel.canvasLeft + panel.canvasWidth - panel.plotRight,
      top: PLOT_TOP,
      bottom: 0,
    },
  };
}

const POINT_STYLE = { pointStyle: 'rect', pointRadius: 2, pointBorderWidth: 0, borderWidth: 0, backgroundColor: '#000' };

function lcConfig(): any {
  const points: { x: number; y: number }[] = [];
  LC_FLUX.forEach((row, d) => {
    row.forEach((f, j) => points.push({ x: LC_DAYS[d] + (j + 0.5) / row.length, y: f }));
  });
  LC_FLUX_CORE.forEach((row, d) => {
    row.forEach((f, j) => points.push({ x: LC_DAYS[d] + (j + 0.3) / row.length, y: f }));
  });
  return {
    type: 'scatter',
    data: { datasets: [{ data: points, ...POINT_STYLE }] },
    options: {
      animation: false,
      responsive: false,
      devicePixelRatio: 1,
      layout: layoutPadding(PANEL_LC),
      plugins: BASE_PLUGINS,
      events: [],
      scales: {
        x: xScale(LC_X_RANGE, LC_X_TICKS, LC_X_TICK_LABELS, 'times- 2228 (d)', 'linear'),
        y: yScale(PANEL_LC, LC_Y_RANGE, LC_Y_TICKS, LC_Y_TICK_LABELS, 'flux', 26, [1950], [], 0.52),
      },
    },
    plugins: [
      idlAxesPlugin({
        xMajor: LC_X_TICKS,
        xMinor: linearMinors(LC_X_RANGE[0], LC_X_RANGE[1], LC_X_MINOR_STEP),
        yMajor: LC_Y_TICKS,
        yMinor: linearMinors(LC_Y_RANGE[0], LC_Y_RANGE[1], LC_Y_MINOR_STEP),
      }),
      annotationPlugin,
    ],
  };
}

function pgConfig(): any {
  const points = PG_PERIOD.map((p, i) => ({ x: p, y: PG_POWER[i] }));
  return {
    type: 'line',
    data: {
      datasets: [
        {
          data: points,
          borderColor: '#000',
          borderWidth: 4,
          pointRadius: 0,
          tension: 0,
          fill: false,
          borderJoinStyle: 'bevel',
        },
      ],
    },
    options: {
      animation: false,
      responsive: false,
      devicePixelRatio: 1,
      layout: layoutPadding(PANEL_PG),
      plugins: BASE_PLUGINS,
      events: [],
      scales: {
        x: xScale(PG_X_RANGE, PG_X_TICKS, PG_X_TICK_LABELS, 'Period', 'logarithmic'),
        y: yScale(PANEL_PG, PG_Y_RANGE, PG_Y_TICKS, PG_Y_TICK_LABELS, 'Power', 724, [0], [1000], 0.6),
      },
    },
    plugins: [
      idlAxesPlugin({
        xMajor: PG_X_TICKS,
        xMinor: logMinors(PG_X_RANGE[0], PG_X_RANGE[1]),
        yMajor: PG_Y_TICKS,
        yMinor: linearMinors(PG_Y_RANGE[0], PG_Y_RANGE[1], PG_Y_MINOR_STEP),
      }),
      panelTitlePlugin(PG_TITLE),
    ],
  };
}

function phConfig(): any {
  const points: { x: number; y: number }[] = [];
  const n = PH_COLUMN_FLUX.length;
  PH_COLUMN_FLUX.forEach((col, i) => {
    col.forEach((f) => points.push({ x: (i + 0.5) / n, y: f }));
  });
  PH_HALO_PHASE.forEach((p, i) => {
    points.push({ x: p, y: PH_HALO_UPPER[i] });
    points.push({ x: p, y: PH_HALO_LOWER[i] });
  });
  PH_EXTRA_PHASE.forEach((p, i) => points.push({ x: p, y: PH_EXTRA_FLUX[i] }));
  return {
    type: 'scatter',
    data: { datasets: [{ data: points, ...POINT_STYLE }] },
    options: {
      animation: false,
      responsive: false,
      devicePixelRatio: 1,
      layout: layoutPadding(PANEL_PH),
      plugins: BASE_PLUGINS,
      events: [],
      scales: {
        x: xScale(PH_X_RANGE, PH_X_TICKS, PH_X_TICK_LABELS, 'phase', 'linear'),
        y: yScale(PANEL_PH, PH_Y_RANGE, PH_Y_TICKS, PH_Y_TICK_LABELS, 'relative flux', 1438, [], [], 1),
      },
    },
    plugins: [
      idlAxesPlugin({
        xMajor: PH_X_TICKS,
        xMinor: linearMinors(PH_X_RANGE[0], PH_X_RANGE[1], PH_X_MINOR_STEP),
        yMajor: PH_Y_TICKS,
        yMinor: linearMinors(PH_Y_RANGE[0], PH_Y_RANGE[1], PH_Y_MINOR_STEP),
      }),
      panelTitlePlugin(PH_TITLE),
    ],
  };
}

export default function App() {
  const lcRef = useRef<HTMLCanvasElement>(null);
  const pgRef = useRef<HTMLCanvasElement>(null);
  const phRef = useRef<HTMLCanvasElement>(null);

  useEffect(() => {
    document.body.style.margin = '0';
    Chart.defaults.font.family = FONT_FAMILY;
    const charts = [
      new Chart(lcRef.current as HTMLCanvasElement, lcConfig()),
      new Chart(pgRef.current as HTMLCanvasElement, pgConfig()),
      new Chart(phRef.current as HTMLCanvasElement, phConfig()),
    ];
    return () => charts.forEach((c) => c.destroy());
  }, []);

  const canvasStyle = (p: Panel): React.CSSProperties => ({
    position: 'absolute',
    left: p.canvasLeft,
    top: 0,
    width: p.canvasWidth,
    height: PAGE_H,
  });

  return (
    <div
      style={{
        position: 'fixed',
        left: 0,
        top: 0,
        width: PAGE_W,
        height: PAGE_H,
        background: '#fff',
        overflow: 'hidden',
      }}
    >
      <canvas ref={lcRef} width={PANEL_LC.canvasWidth} height={PAGE_H} style={canvasStyle(PANEL_LC)} />
      <canvas ref={pgRef} width={PANEL_PG.canvasWidth} height={PAGE_H} style={canvasStyle(PANEL_PG)} />
      <canvas ref={phRef} width={PANEL_PH.canvasWidth} height={PAGE_H} style={canvasStyle(PANEL_PH)} />
      <div
        style={{
          position: 'absolute',
          left: 0,
          top: 0,
          width: PAGE_W,
          height: PAGE_H,
          border: '3px solid #000',
          boxSizing: 'border-box',
          pointerEvents: 'none',
        }}
      />
    </div>
  );
}
